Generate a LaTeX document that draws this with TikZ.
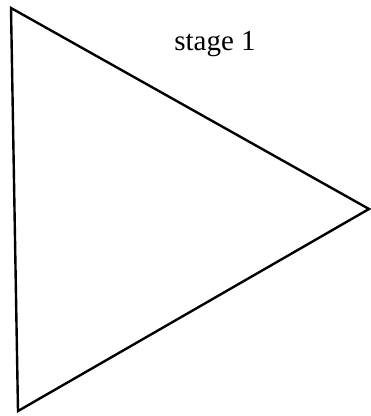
\documentclass[tikz,border=0pt]{standalone}
\usepackage{fontspec}
\setmainfont{Liberation Serif}
\usetikzlibrary{positioning}

\begin{document}
\begin{tikzpicture}[x=1pt, y=-1pt]
      \useasboundingbox (0,0) rectangle (371,416);
      \coordinate (top) at (11,8);
      \coordinate (tip) at (369,209);
      \coordinate (bottom) at (18,411);
      \draw[line width=2.4pt, line join=miter]
        (top) -- (tip) -- (bottom) -- cycle;
      \node[font=\fontsize{29}{32}\selectfont] (label) at (215,44)
        {stage 1};
    \end{tikzpicture}
\end{document}
